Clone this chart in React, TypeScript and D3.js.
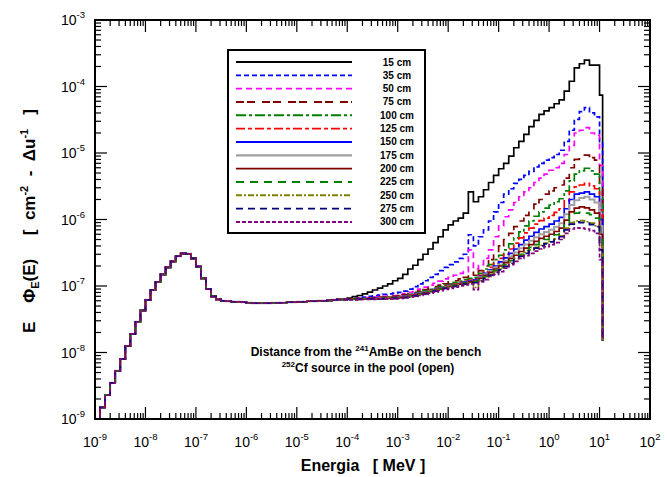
import React from "react";
import * as d3 from "d3";

// ---------- DATA ----------
// Bin structure: 0.1-decade lethargy bins from 1e-9 MeV to 10 MeV, plus a final bin to the cutoff energy.
const binsPerDecade = 10;
const firstEnergyExp = -9;
const cutoffEnergy = 11.5; // MeV, last bin upper edge
const dropValue = 1.5e-8; // where every curve ends after the cutoff
const UNIT = 1e-8; // series values below are in units of 1e-8

// Shared thermal/epithermal region (1e-9 .. 1e-4 MeV), identical for all distances
const sharedLow = [
  0.1, 0.15, 0.23, 0.35, 0.53, 0.8, 1.25, 1.9, 2.9, 4.3,
  6.2, 8.7, 11.5, 15, 19, 23.5, 28, 31, 30.5, 26,
  19.5, 13, 9.0, 7.0, 6.3, 6.0, 5.9, 5.8, 5.8, 5.7,
  5.6, 5.5, 5.5, 5.5, 5.5, 5.6, 5.6, 5.6, 5.7, 5.7,
  5.8, 5.8, 5.9, 5.9, 6.0, 6.0, 6.1, 6.2, 6.3, 6.3,
];

// Fast region (1e-4 .. 10 MeV) per distance, then last-bin value
const s15 = [
  6.6, 6.9, 7.2, 7.6, 8.1, 8.7, 9.3, 10, 10.8, 12,
  13, 15, 18, 20.5, 25, 30, 36, 45, 55, 70,
  83, 95, 105, 125, 260, 185, 220, 280, 360, 460,
  580, 700, 900, 1200, 1500, 1900, 2500, 3100, 3800, 4300,
  4800, 5500, 6300, 8500, 12000, 19000, 22000, 25000, 21000, 21000,
  7400,
];
const s35 = [
  6.4, 6.5, 6.6, 6.8, 7.0, 7.1, 7.3, 7.5, 7.6, 7.8,
  8.0, 8.4, 9.0, 9.8, 10.8, 12, 13.5, 15, 17, 19,
  21, 23, 26, 30, 59, 40, 55, 70, 95, 130,
  180, 240, 290, 350, 400, 460, 530, 620, 700, 780,
  850, 950, 1100, 1500, 2200, 3200, 4200, 4800, 4000, 3500,
  1400,
];
const s50 = [
  6.4, 6.4, 6.5, 6.6, 6.7, 6.8, 6.9, 7.0, 7.1, 7.2,
  7.4, 7.7, 8.0, 8.5, 9.0, 9.6, 10.3, 11, 11.8, 12.8,
  13.5, 14.5, 15.5, 16.5, 35, 18, 21, 26, 35, 55,
  80, 110, 140, 180, 220, 260, 300, 360, 420, 480,
  550, 600, 700, 950, 1300, 2000, 2200, 2400, 2000, 1850,
  650,
];
const s75 = [
  6.4, 6.4, 6.5, 6.5, 6.6, 6.7, 6.8, 6.8, 6.9, 7.0,
  7.2, 7.4, 7.7, 8.0, 8.4, 8.8, 9.3, 9.8, 10.3, 10.8,
  11.5, 12.0, 12.8, 13.5, 16, 14.5, 17, 20, 25, 32,
  40, 50, 62, 78, 95, 115, 140, 170, 200, 240,
  270, 300, 330, 420, 600, 800, 880, 930, 850, 780,
  350,
];
const s100 = [
  6.4, 6.4, 6.4, 6.5, 6.5, 6.6, 6.6, 6.7, 6.8, 6.9,
  7.0, 7.2, 7.5, 7.8, 8.1, 8.5, 8.9, 9.3, 9.8, 10.3,
  10.8, 11.3, 11.8, 12.5, 13, 13.5, 15.5, 18, 21, 25,
  29, 35, 43, 53, 65, 80, 95, 112, 130, 148,
  165, 185, 205, 270, 380, 480, 540, 590, 540, 480,
  220,
];
const s125 = [
  6.4, 6.4, 6.4, 6.4, 6.5, 6.5, 6.6, 6.6, 6.7, 6.8,
  6.9, 7.1, 7.3, 7.6, 7.9, 8.2, 8.6, 9.0, 9.4, 9.9,
  10.3, 10.8, 11.3, 11.8, 12.3, 12.8, 14.5, 16.5, 19, 22,
  26, 30, 36, 44, 53, 63, 74, 85, 96, 105,
  115, 128, 145, 190, 260, 310, 330, 350, 320, 290,
  140,
];
const s150 = [
  6.4, 6.4, 6.4, 6.4, 6.4, 6.5, 6.5, 6.6, 6.6, 6.7,
  6.8, 7.0, 7.2, 7.5, 7.8, 8.1, 8.5, 8.9, 9.3, 9.7,
  10.1, 10.5, 11.0, 11.5, 12.0, 12.5, 14, 15.5, 17.5, 20,
  23, 26.5, 31, 36, 42, 49, 56, 64, 72, 78,
  85, 95, 108, 145, 200, 240, 250, 260, 240, 220,
  100,
];
const s175 = [
  6.4, 6.4, 6.4, 6.4, 6.4, 6.4, 6.5, 6.5, 6.6, 6.6,
  6.7, 6.9, 7.1, 7.4, 7.7, 8.0, 8.4, 8.8, 9.2, 9.6,
  10.0, 10.4, 10.8, 11.2, 11.6, 12.0, 13.5, 15, 17, 19,
  21, 24, 28, 32, 37, 42, 48, 54, 60, 65,
  70, 78, 88, 120, 165, 195, 210, 220, 200, 180,
  80,
];
const s200 = [
  6.4, 6.4, 6.4, 6.4, 6.4, 6.4, 6.4, 6.5, 6.5, 6.6,
  6.7, 6.8, 7.0, 7.3, 7.6, 7.9, 8.3, 8.7, 9.1, 9.5,
  9.9, 10.3, 10.7, 11.1, 11.5, 11.8, 13, 14.5, 16, 18,
  20, 22.5, 26, 29, 33, 37, 42, 47, 52, 56,
  60, 66, 74, 98, 130, 148, 155, 150, 140, 125,
  60,
];
const s225 = [
  6.3, 6.3, 6.4, 6.4, 6.4, 6.4, 6.4, 6.5, 6.5, 6.5,
  6.6, 6.8, 7.0, 7.2, 7.5, 7.8, 8.2, 8.6, 9.0, 9.4,
  9.8, 10.2, 10.6, 11.0, 11.4, 11.6, 12.5, 14, 15.5, 17,
  19, 21, 24, 27, 30, 34, 38, 42, 46, 50,
  54, 59, 66, 88, 115, 125, 128, 125, 118, 105,
  50,
];
const s250 = [
  6.3, 6.3, 6.3, 6.4, 6.4, 6.4, 6.4, 6.4, 6.5, 6.5,
  6.6, 6.7, 6.9, 7.1, 7.4, 7.7, 8.1, 8.5, 8.9, 9.3,
  9.6, 10.0, 10.4, 10.8, 11.1, 9.5, 12, 13.5, 15, 16.5,
  18, 20, 23, 26, 29, 32, 35, 38, 41, 44,
  47, 51, 57, 74, 90, 95, 96, 92, 88, 80,
  40,
];
const s275 = [
  6.3, 6.3, 6.3, 6.3, 6.4, 6.4, 6.4, 6.4, 6.5, 6.5,
  6.5, 6.7, 6.9, 7.1, 7.3, 7.6, 8.0, 8.4, 8.8, 9.2,
  9.5, 9.9, 10.3, 10.7, 11.0, 11.2, 11.8, 13, 14.5, 16,
  17.5, 19.5, 22, 25, 28, 31, 34, 37, 40, 43,
  46, 50, 55, 70, 85, 92, 90, 88, 84, 78,
  35,
];
const s300 = [
  6.2, 6.2, 6.3, 6.3, 6.3, 6.3, 6.4, 6.4, 6.4, 6.4,
  6.5, 6.6, 6.8, 7.0, 7.2, 7.5, 7.8, 8.1, 8.5, 8.9,
  9.2, 9.6, 10.0, 10.4, 10.8, 8.8, 11.5, 12.5, 14, 15,
  16.5, 18.5, 21, 23.5, 26, 28.5, 31, 33.5, 36, 39,
  42, 45, 50, 62, 72, 75, 74, 72, 68, 62,
  25,
];

const distances = ["15 cm", "35 cm", "50 cm", "75 cm", "100 cm", "125 cm", "150 cm", "175 cm", "200 cm", "225 cm", "250 cm", "275 cm", "300 cm"];
const fastSeries = [s15, s35, s50, s75, s100, s125, s150, s175, s200, s225, s250, s275, s300];

const xTickExps = [-9, -8, -7, -6, -5, -4, -3, -2, -1, 0, 1, 2];
const yTickExps = [-9, -8, -7, -6, -5, -4, -3];

// ---------- STYLES ----------
const colors = ["#000000", "#0000ff", "#ff00ff", "#800000", "#008000", "#ff0000", "#0000ff", "#a0a0a0", "#800000", "#008000", "#808000", "#000080", "#800080"];
const dashes = [null, "5,3", "6,4", "8,3,8,7", "10,3,3,3", "9,3,4,3", null, null, null, "8,6", "6,2,2,2", "7,5", "4,2"];
const FONT = "'Liberation Sans', Arial, Helvetica, sans-serif";

const W = 667, H = 477;
const L = 95, R = 650, T = 20, B = 419;

export default function App() {
  const x = d3.scaleLog().domain([1e-9, 1e2]).range([L, R]);
  const y = d3.scaleLog().domain([1e-9, 1e-3]).range([B, T]).clamp(false);

  const nBins = sharedLow.length + s15.length - 1;
  const edges = d3.range(0, nBins + 1).map((i) => Math.pow(10, firstEnergyExp + i / binsPerDecade));
  edges.push(cutoffEnergy);

  const line = d3
    .line<[number, number]>()
    .x((d) => x(d[0]))
    .y((d) => y(Math.max(d[1], 1e-12)))
    .curve(d3.curveStepAfter);

  const paths = fastSeries.map((fs) => {
    const vals = sharedLow.concat(fs).map((v) => v * UNIT);
    const pts: [number, number][] = vals.map((v, i) => [edges[i], v]);
    pts.push([edges[edges.length - 1], vals[vals.length - 1]]);
    pts.push([edges[edges.length - 1], dropValue]);
    return line(pts) || "";
  });

  const majorLen = 12, minorLen = 6;
  const xMinor: number[] = [];
  xTickExps.slice(0, -1).forEach((e) => {
    for (let k = 2; k <= 9; k++) xMinor.push(k * Math.pow(10, e));
  });
  const yMinor: number[] = [];
  yTickExps.slice(0, -1).forEach((e) => {
    for (let k = 2; k <= 9; k++) yMinor.push(k * Math.pow(10, e));
  });

  const legendX1 = 236, legendX2 = 352, legendLabelX = 397, legendY0 = 62, legendDy = 13.33;

  return (
    <svg width={W} height={H} style={{ position: "absolute", left: 0, top: 0, background: "#fff" }} fontFamily={FONT}>
      <defs>
        <clipPath id="plotclip">
          <rect x={L} y={T} width={R - L} height={B - T} />
        </clipPath>
      </defs>
      <rect x={0} y={0} width={W} height={H} fill="#fff" />

      {/* data */}
      <g clipPath="url(#plotclip)" fill="none">
        {paths.map((d, i) => (
          <path
            key={i}
            d={d}
            stroke={colors[i]}
            strokeWidth={i === 7 ? 2 : 1.7}
            strokeDasharray={dashes[i] || undefined}
          />
        ))}
      </g>

      {/* ticks */}
      <g stroke="#000" strokeWidth={1.2}>
        {xTickExps.map((e) => {
          const px = x(Math.pow(10, e));
          return (
            <g key={"xm" + e}>
              <line x1={px} x2={px} y1={B} y2={B - majorLen} />
              <line x1={px} x2={px} y1={T} y2={T + majorLen} />
            </g>
          );
        })}
        {xMinor.map((v, i) => {
          const px = x(v);
          return (
            <g key={"xn" + i}>
              <line x1={px} x2={px} y1={B} y2={B - minorLen} />
              <line x1={px} x2={px} y1={T} y2={T + minorLen} />
            </g>
          );
        })}
        {yTickExps.map((e) => {
          const py = y(Math.pow(10, e));
          return (
            <g key={"ym" + e}>
              <line x1={L} x2={L + majorLen} y1={py} y2={py} />
              <line x1={R} x2={R - majorLen} y1={py} y2={py} />
            </g>
          );
        })}
        {yMinor.map((v, i) => {
          const py = y(v);
          return (
            <g key={"yn" + i}>
              <line x1={L} x2={L + minorLen} y1={py} y2={py} />
              <line x1={R} x2={R - minorLen} y1={py} y2={py} />
            </g>
          );
        })}
      </g>

      {/* frame */}
      <rect x={L} y={T} width={R - L} height={B - T} fill="none" stroke="#000" strokeWidth={2} />

      {/* tick labels */}
      <g fontSize={14} fill="#000">
        {xTickExps.map((e) => (
          <text key={"xl" + e} x={x(Math.pow(10, e))} y={447} textAnchor="middle">
            10<tspan dy={-7} fontSize={9.5}>{e}</tspan>
          </text>
        ))}
        {yTickExps.map((e) => (
          <text key={"yl" + e} x={85} y={y(Math.pow(10, e)) + 5} textAnchor="end">
            10<tspan dy={-7} fontSize={9.5}>{e}</tspan>
          </text>
        ))}
      </g>

      {/* axis titles */}
      <text x={363} y={471} textAnchor="middle" fontSize={16} fontWeight="bold" style={{ whiteSpace: "pre" }}>
        {"Energia   [ MeV ]"}
      </text>
      <text
        transform="translate(35,221) rotate(-90)"
        textAnchor="middle"
        fontSize={17}
        fontWeight="bold"
        style={{ whiteSpace: "pre" }}
      >
        {"E    Φ"}
        <tspan dy={4} fontSize={11}>E</tspan>
        <tspan dy={-4}>{"(E)     [  cm"}</tspan>
        <tspan dy={-7} fontSize={11}>-2</tspan>
        <tspan dy={7}>{"  -  Δu"}</tspan>
        <tspan dy={-7} fontSize={11}>-1</tspan>
        <tspan dy={7}>{"   ]"}</tspan>
      </text>

      {/* legend */}
      <rect x={228} y={50} width={197} height={183} fill="#fff" stroke="#000" strokeWidth={2} />
      {distances.map((lab, i) => {
        const ly = legendY0 + i * legendDy;
        return (
          <g key={"lg" + i}>
            <line
              x1={legendX1}
              x2={legendX2}
              y1={ly}
              y2={ly}
              stroke={colors[i]}
              strokeWidth={i === 7 ? 2.2 : 1.9}
              strokeDasharray={dashes[i] || undefined}
            />
            <text x={legendLabelX} y={ly + 3.5} textAnchor="middle" fontSize={10} fontWeight="bold">
              {lab}
            </text>
          </g>
        );
      })}

      {/* annotation */}
      <g fontSize={12} fontWeight="bold" textAnchor="middle">
        <text x={366} y={356}>
          Distance from the <tspan dy={-5} fontSize={8}>241</tspan>
          <tspan dy={5}>AmBe on the bench</tspan>
        </text>
        <text x={368} y={372}>
          <tspan dy={-5} fontSize={8}>252</tspan>
          <tspan dy={5}>Cf source in the pool (open)</tspan>
        </text>
      </g>
    </svg>
  );
}
